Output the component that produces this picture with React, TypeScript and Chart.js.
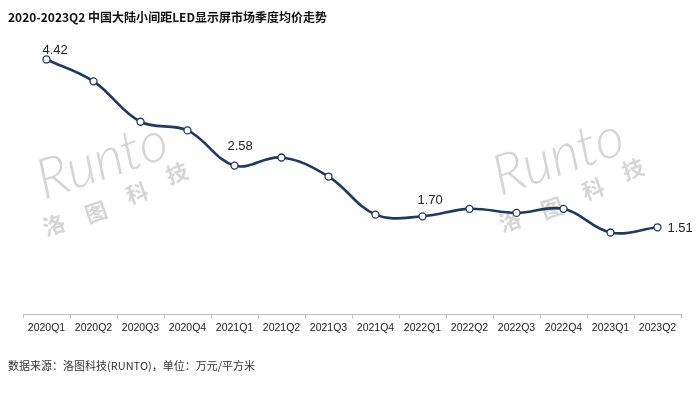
import React, { useEffect, useRef } from 'react';
import { Chart, registerables } from 'chart.js';

Chart.register(...registerables);

const categories = ['2020Q1', '2020Q2', '2020Q3', '2020Q4', '2021Q1', '2021Q2', '2021Q3', '2021Q4', '2022Q1', '2022Q2', '2022Q3', '2022Q4', '2023Q1', '2023Q2'];
const prices = [4.42, 4.04, 3.34, 3.19, 2.58, 2.72, 2.39, 1.73, 1.70, 1.83, 1.76, 1.83, 1.42, 1.51];
const labeledIndices = [0, 4, 8, 13];
const titleText = '2020-2023Q2 中国大陆小间距LED显示屏市场季度均价走势';
const sourceText = '数据来源：洛图科技(RUNTO)，单位：万元/平方米';
const watermarkLatin = 'Runto';
const watermarkCjk = ['洛', '图', '科', '技'];

const labelOffsets: Record<number, [number, number, CanvasTextAlign]> = {
  0: [-4, -9, 'left'],
  4: [-7, -19, 'left'],
  8: [-5, -16, 'left'],
  13: [10, 1, 'left'],
};

const cjkOffsets: [number, number][] = [
  [10, 25],
  [52, 12],
  [93, -7],
  [133, -27],
];

const decorPlugin = {
  id: 'decor',
  beforeDatasetsDraw(chart: any) {
    const ctx = chart.ctx as CanvasRenderingContext2D;
    const marks = [
      [44, 200],
      [500, 196],
    ];
    for (const [x0, y0] of marks) {
      ctx.save();
      ctx.fillStyle = 'rgba(185,185,185,0.6)';
      ctx.translate(x0, y0);
      ctx.save();
      ctx.rotate(-0.33);
      ctx.font = 'italic 300 56px "Lato", "Liberation Sans", sans-serif';
      ctx.textBaseline = 'alphabetic';
      ctx.textAlign = 'left';
      ctx.fillText(watermarkLatin, 0, 0);
      ctx.restore();
      ctx.font = 'bold 22px "Noto Sans CJK SC", sans-serif';
      ctx.textAlign = 'center';
      ctx.textBaseline = 'middle';
      watermarkCjk.forEach((c, i) => {
        const [dx, dy] = cjkOffsets[i];
        ctx.save();
        ctx.translate(dx, dy);
        ctx.rotate(-0.33);
        ctx.fillText(c, 0, 0);
        ctx.restore();
      });
      ctx.restore();
    }
  },
  afterDraw(chart: any) {
    const ctx = chart.ctx as CanvasRenderingContext2D;
    ctx.save();
    ctx.fillStyle = '#111';
    ctx.textBaseline = 'middle';
    ctx.textAlign = 'left';
    ctx.font = 'bold 12px "Noto Sans CJK SC", sans-serif';
    ctx.fillText(titleText, 8, 17);
    ctx.fillStyle = '#333';
    ctx.font = '11px "Noto Sans CJK SC", sans-serif';
    ctx.fillText(sourceText, 8, 366);

    const meta = chart.getDatasetMeta(0);
    ctx.font = '13px "Liberation Sans", Arial, sans-serif';
    ctx.fillStyle = '#222';
    for (const i of labeledIndices) {
      const p = meta.data[i];
      const [dx, dy, align] = labelOffsets[i];
      ctx.textAlign = align;
      ctx.fillText(prices[i].toFixed(2), p.x + dx, p.y + dy);
    }
    ctx.restore();
  },
};

export default function App() {
  const ref = useRef<HTMLCanvasElement>(null);
  useEffect(() => {
    document.body.style.margin = '0';
    document.body.style.background = '#fff';
    const chart = new Chart(ref.current as HTMLCanvasElement, {
      type: 'line',
      data: {
        labels: categories,
        datasets: [
          {
            data: prices,
            borderColor: '#1f3864',
            borderWidth: 2.6,
            tension: 0.38,
            pointRadius: 3.5,
            pointBackgroundColor: '#ffffff',
            pointBorderColor: '#1f3864',
            pointBorderWidth: 1.3,
            fill: false,
          },
        ],
      },
      options: {
        responsive: false,
        animation: false,
        layout: { padding: { left: 23, right: 19, top: 26, bottom: 60 } },
        plugins: { legend: { display: false }, title: { display: false }, tooltip: { enabled: false } },
        scales: {
          x: {
            offset: true,
            grid: { offset: true, drawOnChartArea: false, tickLength: 4, color: '#bfbfbf' },
            border: { color: '#bfbfbf', width: 1 },
            ticks: { color: '#222', padding: 3, font: { size: 10.5, family: '"Liberation Sans", Arial, sans-serif' }, maxRotation: 0, autoSkip: false },
          },
          y: { display: false, min: 0, max: 5 },
        },
      },
      plugins: [decorPlugin],
    });
    return () => chart.destroy();
  }, []);
  return (
    <div style={{ width: 700, height: 397, background: '#fff' }}>
      <canvas ref={ref} width={700} height={397} />
    </div>
  );
}
